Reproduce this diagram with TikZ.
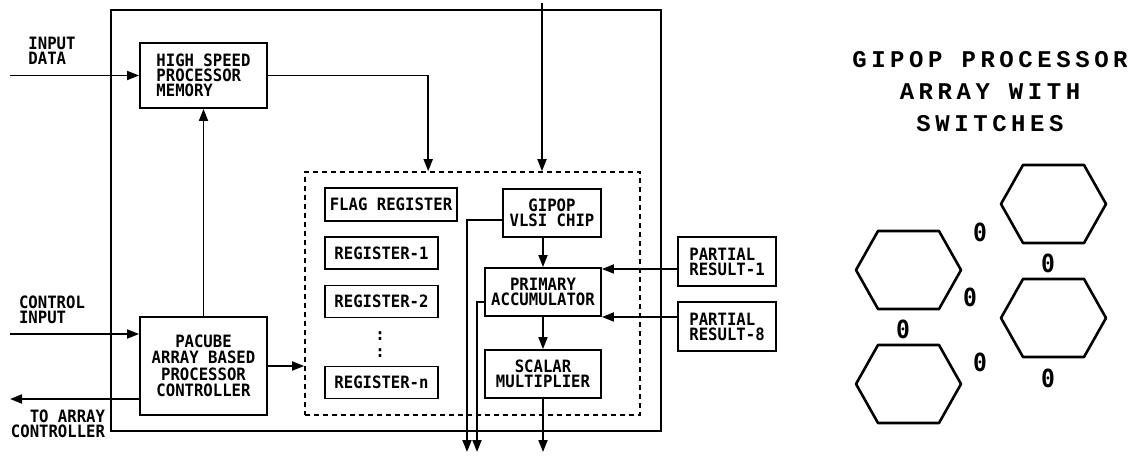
\documentclass[tikz,border=0pt]{standalone}
\usepackage{fontspec}
\newfontfamily\boxfont[FakeStretch=0.92]{DejaVu Sans Mono}
\newfontfamily\headfont[LetterSpace=19]{Liberation Mono}
\usepackage{tikz}
\usetikzlibrary{
    arrows.meta,
    positioning,
    calc
}

\begin{document}
\begin{tikzpicture}[
    x=1pt,y=-1pt,
    unit/.style={
        draw,
        line width=1.9pt,
        inner sep=0pt,
        align=center,
        font=\boxfont\bfseries\fontsize{17}{15}\selectfont
    },
    tag/.style={
        inner sep=0pt,
        font=\boxfont\bfseries\fontsize{17}{15}\selectfont
    },
    arr/.style={
        -{Triangle[length=12pt,width=9pt]},
        line width=1.8pt
    },
    zero/.style={
        inner sep=0pt,
        font=\boxfont\bfseries\fontsize{25}{25}\selectfont
    }
]
%
    \useasboundingbox (0,0) rectangle (1138,457);
%
    \node[
        draw,
        line width=1.9pt,
        minimum width=550pt,
        minimum height=421pt
    ] (board) at (386,220.5) {};
%
    \node[
        draw,
        dashed,
        dash pattern=on 5pt off 4pt,
        line width=1.6pt,
        minimum width=335pt,
        minimum height=243pt
    ] (core) at (472.5,293.5) {};
%
    \node[
        unit,
        align=left,
        minimum width=127pt,
        minimum height=65pt
    ] (mem) at (203.5,75.5) {HIGH SPEED\\PROCESSOR\\MEMORY};
%
    \node[
        unit,
        font=\boxfont\bfseries\fontsize{17}{16.5}\selectfont,
        minimum width=127pt,
        minimum height=98pt
    ] (ctrl) at (203.5,366) {PACUBE\\ARRAY BASED\\PROCESSOR\\CONTROLLER};
%
    \node[
        unit,
        minimum width=132pt,
        minimum height=33pt
    ] (flag) at (391,204.5) {FLAG REGISTER};
%
    \node[
        unit,
        minimum width=113pt,
        minimum height=32pt
    ] (reg1) at (381.5,253) {REGISTER-1};
%
    \node[
        unit,
        minimum width=113pt,
        minimum height=32pt
    ] (reg2) at (381.5,301.5) {REGISTER-2};
%
    \node[
        tag,
        align=center,
        font=\boxfont\bfseries\fontsize{17}{17}\selectfont
    ] (dots) at (380,345) {:\\:};
%
    \node[
        unit,
        minimum width=113pt,
        minimum height=32pt
    ] (regn) at (381.5,382.5) {REGISTER-n};
%
    \node[
        unit,
        minimum width=98pt,
        minimum height=48pt
    ] (chip) at (552,213) {GIPOP\\VLSI CHIP};
%
    \node[
        unit,
        minimum width=116pt,
        minimum height=48pt
    ] (acc) at (543,292) {PRIMARY\\ACCUMULATOR};
%
    \node[
        unit,
        minimum width=116pt,
        minimum height=48pt
    ] (mult) at (543,374) {SCALAR\\MULTIPLIER};
%
    \node[
        unit,
        align=left,
        minimum width=98pt,
        minimum height=49pt
    ] (pr1) at (727,261.5) {PARTIAL\\RESULT-1};
%
    \node[
        unit,
        align=left,
        minimum width=98pt,
        minimum height=49pt
    ] (pr8) at (727,326.5) {PARTIAL\\RESULT-8};
%
    \node[
        tag,
        align=left
    ] (indata) at (52,51) {INPUT\\DATA};
%
    \node[
        tag,
        align=left
    ] (ctlin) at (52,310) {CONTROL\\INPUT};
%
    \node[
        tag,
        align=right
    ] (toarr) at (58,424) {TO ARRAY\\CONTROLLER};
%
    \coordinate (inA) at (10,75.5);
    \coordinate (inB) at (10,334);
    \coordinate (outA) at (10,399);
    \coordinate (topin) at (542,3);
    \coordinate (outB) at (543,452);
    \coordinate (outC) at (467,452);
    \coordinate (outD) at (477,452);
%
    \draw[arr] (inA) -- (mem.west);
    \draw[arr] (inB) -- (inB -| ctrl.west);
    \draw[arr] (outA -| ctrl.west) -- (outA);
    \draw[arr] (ctrl.north) -- (mem.south);
    \draw[arr] (mem.east) -| ([xshift=124pt]core.north west);
    \draw[arr] (topin) -- (topin |- core.north);
    \draw[arr] (ctrl.east) -- (ctrl.east -| core.west);
%
    \draw[arr] (acc.north |- chip.south) -- (acc.north);
    \draw[arr] (acc.south) -- (mult.north);
    \draw[arr] (mult.south) -- (outB);
    \draw[arr] ([yshift=-7pt]chip.west) -| (outC);
    \draw[arr] ([yshift=-10pt]acc.west) -| (outD);
%
    \draw[arr] ([yshift=-7.5pt]pr1.west) -- ([yshift=-7.5pt]pr1.west -| acc.east);
    \draw[arr] ([yshift=9.5pt]pr8.west) -- ([yshift=9.5pt]pr8.west -| acc.east);
%
    \node[
        align=center,
        inner sep=0pt,
        font=\headfont\bfseries\fontsize{24}{32}\selectfont
    ] (title) at (990,92) {GIPOP PROCESSOR\\ARRAY WITH\\SWITCHES};
%
    \foreach \cx/\cy in {1053/204, 908/270, 1053/318, 908/384}{
        \draw[
            line width=2.6pt,
            line join=round
        ]
        (\cx-52,\cy) -- (\cx-30,\cy-39) -- (\cx+31,\cy-39)
        -- (\cx+53,\cy) -- (\cx+31,\cy+39) -- (\cx-30,\cy+39) -- cycle;
    }
%
    \foreach \zx/\zy [count=\i] in {980/232, 1048/263, 970/297, 903/329, 980/362, 1048/378}{
        \node[zero] (z\i) at (\zx,\zy) {0};
    }
%
\end{tikzpicture}
\end{document}
